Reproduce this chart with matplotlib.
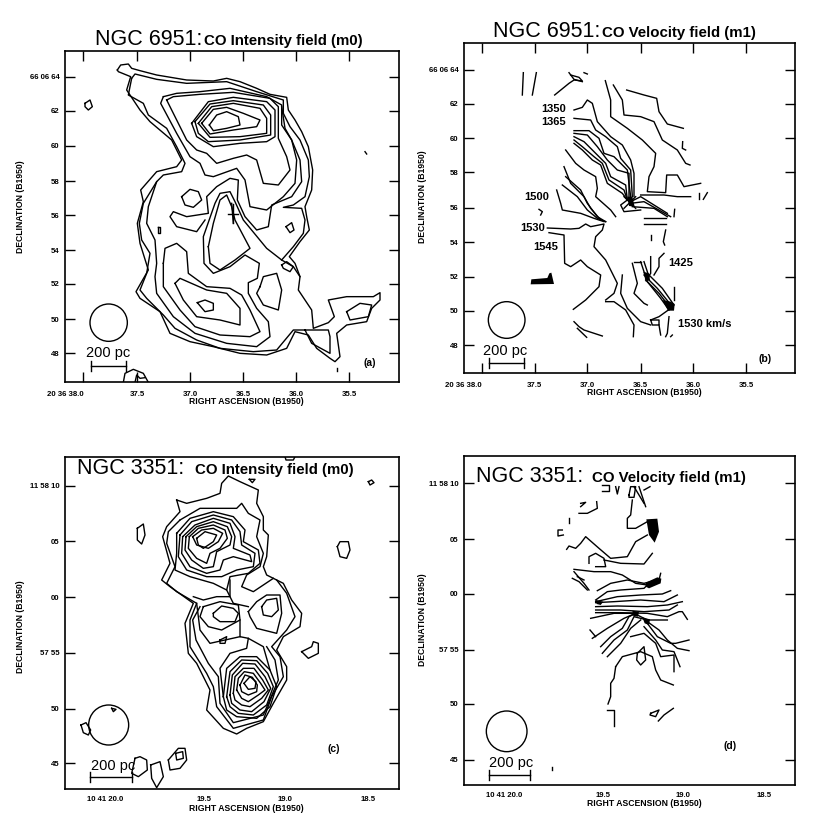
#!/bin/python
import matplotlib
matplotlib.use("Agg")
import matplotlib.pyplot as plt
from matplotlib.patches import Circle

plt.rcParams["font.family"] = ["Liberation Sans", "DejaVu Sans"]

a_contours = [
    [(352,210),(362,195),(385,192),(395,205),(420,212),(470,225),(560,240),(640,243),(680,235),(720,245),(770,265),(810,283),(860,292),(865,330),(885,360),(905,395),(925,440),(938,510),(935,570),(915,620),(920,650),(928,690),(900,725),(868,770),(885,790),(900,830),(895,870),(935,930),(940,985),(985,968),(1003,950),(985,900),(1040,890),(1120,890),(1140,878),(1140,900),(1115,925),(1100,965),(1040,975),(1010,1000),(1020,1070),(1005,1085),(990,1075),(950,1045),(925,1005),(885,995),(860,1045),(800,1065),(720,1060),(640,1040),(570,1025),(510,1000),(480,935),(420,895),(408,875),(425,845),(445,810),(420,730),(412,670),(430,605),(422,570),(470,515),(530,500),(545,480),(515,420),(450,365),(420,330),(380,270),(392,230),(355,215),(352,210)],
    [(395,235),(405,222),(470,238),(560,250),(680,245),(770,275),(850,300),(850,340),(870,380),(900,420),(925,480),(928,530),(915,590),(880,615),(850,622),(905,625),(915,660),(910,700),(880,740),(845,780)],
    [(395,235),(385,285),(430,310),(445,345),(500,385),(530,440),(555,490),(545,515),(490,525),(470,545),(430,610),(418,670),(425,720),(450,760),(440,820),(420,870),(440,895),(490,945),(525,985),(590,1020),(660,1045),(760,1055),(830,1050),(880,990),(915,990),(935,1030),(990,1060),(990,1010),(985,990),(915,990)],
    [(470,545),(445,620),(440,670),(465,720),(470,790),(465,830),(470,880),(520,950),(585,1000),(680,1030),(770,1040),(810,1010),(805,965),(770,925),(745,880),(745,848),(772,835),(778,790),(735,765),(690,800),(640,820),(612,790),(610,710),(645,610),(660,580),(690,575),(705,605),(730,660),(800,745),(845,780),(880,800),(900,830)],
    [(490,290),(530,280),(600,275),(690,265),(800,290),(845,315),(845,375),(875,420),(900,480),(905,545),(875,590),(815,615),(805,680),(770,690),(735,650),(712,600),(715,540),(690,535),(650,560),(620,590),(625,640),(560,650),(520,635),(510,650),(530,680),(590,695),(615,660)],
    [(490,290),(482,310),(530,400),(570,470),(600,490),(615,525),(640,530),(710,505),(735,540),(750,620),(800,630),(850,590),(885,550),(890,480),(875,420),(855,385),(845,320)],
    [(500,300),(520,290),(600,283),(700,277),(810,295),(835,320),(835,415),(860,470),(870,510),(835,555),(790,550),(770,480),(740,465),(700,475),(650,490),(620,460),(590,450),(560,420),(530,360),(500,300)],
    [(575,370),(625,305),(700,292),(800,305),(825,330),(825,410),(800,425),(720,430),(640,440),(590,410),(575,370)],
    [(585,365),(630,312),(700,302),(790,315),(812,345),(812,405),(720,420),(625,425),(595,400),(585,365)],
    [(595,370),(635,320),(700,310),(780,325),(800,355),(800,400),(720,410),(630,412),(595,370)],
    [(605,370),(640,328),(680,322),(730,340),(780,360),(770,380),(700,390),(630,402),(605,370)],
    [(628,375),(650,345),(680,335),(715,350),(720,375),(680,385),(640,392),(628,375)],
    [(625,740),(640,670),(660,600),(680,585),(695,620),(705,660),(750,745),(705,780),(660,810),(630,790),(625,740)],
    [(545,590),(570,568),(595,575),(605,600),(580,622),(555,615),(545,590)],
    [(858,680),(875,668),(882,690),(870,698),(858,680)],
    [(255,310),(270,300),(277,320),(265,330),(255,320),(255,310)],
    [(845,795),(860,785),(880,800),(870,815),(850,805),(845,795)],
    [(592,908),(615,900),(640,910),(640,930),(615,935),(592,908)],
    [(525,850),(540,835),(620,870),(680,880),(720,925),(720,975),(660,960),(590,950),(550,900),(525,850)],
    [(490,790),(490,860),(540,930),(585,980),(660,1005),(750,1010),(780,995),(750,930),(725,885),(690,865),(620,860),(565,820),(560,755),(530,730),(495,745),(490,790)],
    [(780,860),(790,830),(830,820),(845,870),(835,930),(790,915),(770,880),(780,860)],
    [(1040,935),(1080,910),(1115,915),(1105,950),(1050,960),(1040,935)],
    [(473,680),(480,680),(480,700),(473,700),(473,680)],
    [(1095,455),(1100,462)],
    [(1010,1105),(1010,1112)],
    [(370,1147),(375,1120),(400,1108),(430,1120),(445,1147)],
    [(405,1147),(410,1125),(420,1135),(435,1133)],
    [(695,610),(700,670)],
    [(685,642),(715,642)],
]

b_contours = [
    [(328,218),(325,285)],
    [(367,218),(355,285)],
    [(422,285),(465,250),(480,240),(505,243),(495,232),(470,225)],
    [(465,218),(480,238),(505,245)],
    [(510,218),(520,222)],
    [(574,242),(590,300),(590,350),(640,385),(685,420),(725,460),(720,500),(705,530),(700,575),(755,578),(758,525),(790,525),(810,560),(860,550)],
    [(598,255),(625,300),(630,345),(680,350),(720,365),(745,420),(790,450),(815,490),(828,495)],
    [(638,270),(690,285),(728,295),(735,335),(760,372),(808,385)],
    [(806,425),(805,445),(815,450)],
    [(480,330),(505,322),(520,300),(535,310),(550,365),(590,410),(625,435),(650,480),(660,520),(660,590)],
    [(480,355),(530,360),(545,390),(575,410),(610,440),(620,475),(650,510),(655,590)],
    [(480,392),(525,392),(555,415),(570,460),(600,470),(640,510),(650,590)],
    [(480,400),(520,405),(550,440),(580,480),(610,510),(645,520),(645,595)],
    [(480,410),(510,425),(545,460),(575,490),(590,530),(635,555),(640,600)],
    [(480,420),(505,440),(540,470),(565,490),(585,540),(630,570),(640,600)],
    [(480,430),(505,450),(535,480),(560,495),(580,550),(625,580),(640,600)],
    [(455,450),(485,490),(510,510),(545,530),(550,565),(545,590),(590,630),(605,650)],
    [(450,500),(470,550),(510,590),(530,625),(560,660)],
    [(455,530),(500,570),(520,610),(550,650),(575,665)],
    [(445,555),(490,590),(520,630),(550,655),(575,665)],
    [(428,570),(440,610),(445,630),(500,640),(540,655),(570,665)],
    [(650,605),(680,590),(760,640)],
    [(650,610),(690,605),(770,650)],
    [(655,620),(720,625),(760,650)],
    [(680,585),(750,585),(790,590),(830,590)],
    [(640,600),(620,615),(630,635),(680,630)],
    [(630,590),(665,625)],
    [(665,590),(630,625)],
    [(690,654),(755,654)],
    [(690,672),(755,672)],
    [(782,628),(780,650)],
    [(855,580),(855,598)],
    [(868,598),(880,578)],
    [(400,684),(470,687),(495,685),(515,672),(530,680),(570,672),(565,690),(545,710),(540,740),(575,780),(610,850),(600,880),(575,900)],
    [(405,698),(450,705),(452,790),(470,800),(500,780),(520,800),(560,825),(555,860),(515,900),(478,928)],
    [(575,905),(600,905),(635,930),(660,975),(658,1010)],
    [(480,965),(495,980),(510,990),(565,1008)],
    [(490,985),(518,1012)],
    [(712,705),(712,720)],
    [(755,690),(748,725),(752,735)],
    [(625,825),(620,880),(640,925),(680,965),(710,975)],
    [(655,790),(670,850),(660,880),(690,910),(700,915)],
    [(710,770),(710,820),(700,835)],
    [(750,760),(735,775),(735,800),(720,825)],
    [(680,785),(695,830)],
    [(660,785),(680,785)],
    [(690,785),(705,830)],
    [(690,825),(730,865),(775,920)],
    [(695,840),(735,880),(770,925)],
    [(705,825),(745,865),(780,915)],
    [(700,845),(740,895),(765,930)],
    [(780,860),(780,900)],
    [(770,925),(735,950),(710,960)],
    [(710,960),(735,960),(735,975),(715,975),(710,960)],
    [(735,975),(740,1005)],
    [(765,950),(760,1000),(755,1010)],
    [(770,1010),(775,1005)],
    [(375,628),(385,635),(380,645)],
]
b_filled = [
    [(350,853),(352,838),(400,834),(406,820),(412,818),(420,852)],
    [(688,815),(705,820),(708,840),(695,845)],
    [(745,900),(770,905),(782,912),(780,932),(762,932)],
    [(640,590),(655,590),(662,620),(645,618)],
]

c_contours = [
    [(530,240),(560,250),(620,235),(660,220),(665,190),(685,168),(720,185),(775,210),(770,250),(790,290),(790,330),(805,345),(800,410),(790,440),(800,465),(850,490),(875,540),(905,580),(900,620),(850,650),(830,690),(860,740),(860,780),(820,850),(790,905),(740,925),(710,942),(670,925),(620,870),(630,810),(590,730),(565,700),(555,610),(580,550),(510,500),(485,480),(510,430),(488,350),(500,320),(540,275),(530,240)],
    [(540,300),(505,335),(500,370),(525,440),(500,490),(530,515),(590,550),(570,600),(570,680),(620,760),(640,800),(650,860),(700,925),(790,900),(815,830),(850,770),(840,710),(815,680),(860,630),(885,590),(860,520),(830,480)],
    [(540,300),(600,265),(650,265),(710,265),(725,250),(745,280),(780,300),(770,350),(790,400),(780,440),(740,465),(725,500),(760,515),(820,475)],
    [(530,340),(570,295),(640,275),(700,290),(735,330),(730,365),(775,390),(780,430),(745,460),(690,470),(680,510),(640,490),(570,470),(525,450),(530,400),(530,340)],
    [(540,345),(575,305),(640,285),(695,300),(720,335),(725,375),(765,400),(760,440),(710,450),(665,470),(620,470),(560,450),(535,410),(540,345)],
    [(548,350),(585,315),(640,295),(690,310),(705,350),(700,385),(750,405),(755,425),(700,410),(670,420),(660,450),(620,460),(570,440),(545,400),(548,350)],
    [(558,350),(590,320),(640,305),(682,320),(695,350),(690,375),(650,395),(640,440),(610,445),(575,420),(555,390),(558,350)],
    [(568,350),(595,325),(640,315),(675,330),(682,355),(660,385),(630,400),(620,430),(590,415),(565,385),(568,350)],
    [(578,350),(605,330),(640,325),(668,340),(655,365),(625,385),(590,375),(578,350)],
    [(590,355),(615,335),(650,345),(640,365),(610,385),(595,375),(590,355)],
    [(670,830),(680,745),(720,710),(770,710),(810,750),(830,800),(810,860),(770,895),(710,890),(680,870),(670,830)],
    [(680,830),(690,755),(725,720),(770,722),(803,760),(820,800),(800,855),(760,885),(715,880),(690,860),(680,830)],
    [(690,825),(697,765),(728,730),(765,732),(795,770),(812,805),(792,845),(755,875),(720,870),(695,850),(690,825)],
    [(700,820),(705,770),(730,745),(762,745),(788,780),(805,810),(785,835),(750,860),(725,855),(705,840),(700,820)],
    [(710,810),(715,775),(733,755),(760,760),(782,790),(795,810),(775,825),(745,845),(725,835),(710,810)],
    [(720,795),(735,765),(757,772),(772,795),(770,815),(745,825),(725,815),(720,795)],
    [(732,790),(750,770),(768,785),(765,805),(745,808),(732,790)],
    [(640,580),(665,558),(700,565),(715,580),(705,605),(660,605),(640,590),(640,580)],
    [(610,560),(660,545),(715,555),(720,600),(665,630),(625,620),(600,590),(610,560)],
    [(785,560),(800,540),(830,535),(835,570),(815,590),(790,585),(785,560)],
    [(745,575),(770,545),(800,525),(840,525),(845,580),(830,640),(770,625),(750,590),(745,575)],
    [(720,600),(720,650),(745,655),(740,685),(690,700),(660,745),(670,830)],
    [(660,660),(680,650),(675,670),(660,670),(660,660)],
    [(590,550),(600,630),(630,670),(720,650)],
    [(600,560),(578,600),(588,660),(625,730),(655,770),(660,850),(700,908),(790,885),(835,780),(825,720),(800,680)],
    [(580,530),(610,540),(650,530),(690,530),(690,480)],
    [(680,510),(700,550),(745,560)],
    [(745,655),(790,680),(810,750)],
    [(412,325),(430,312),(435,345),(425,372),(412,360),(412,325)],
    [(1012,380),(1020,365),(1045,365),(1050,390),(1040,415),(1020,410),(1012,380)],
    [(905,695),(935,680),(940,665),(955,670),(955,700),(925,715),(905,695)],
    [(1105,185),(1115,180),(1122,188),(1110,195),(1105,185)],
    [(748,178),(765,178),(757,188),(748,178)],
    [(855,110),(858,120),(880,120),(885,110)],
    [(243,915),(258,908),(272,930),(265,945),(250,938),(243,915)],
    [(335,865),(348,868),(340,875),(335,865)],
    [(405,1015),(420,1010),(440,1020),(442,1050),(415,1070),(395,1060),(405,1015)],
    [(452,1035),(480,1025),(490,1070),(470,1103),(455,1075),(452,1035)],
    [(505,1020),(535,985),(555,985),(560,1020),(540,1045),(510,1050),(505,1020)],
    [(527,1000),(548,995),(550,1015),(530,1020),(527,1000)],
]

d_contours = [
    [(565,195),(585,195),(585,212),(565,212)],
    [(605,200),(610,222),(615,200)],
    [(645,225),(650,200),(665,200),(660,232),(645,232),(645,225)],
    [(660,200),(690,250)],
    [(675,200),(695,260)],
    [(690,210),(708,200)],
    [(655,240),(650,285),(640,295),(640,325),(665,325),(700,305)],
    [(700,345),(665,365),(640,410),(590,415),(555,385),(515,350),(500,370),(485,385),(465,378),(458,388)],
    [(500,250),(515,247),(500,260)],
    [(548,245),(550,265),(520,280),(495,280)],
    [(465,295),(465,310)],
    [(445,330),(432,330),(432,348),(448,345)],
    [(525,430),(525,410),(545,400),(570,415),(575,440),(545,440)],
    [(570,420),(620,430),(690,432),(715,400)],
    [(480,448),(540,455),(590,455),(625,465),(665,490),(700,495)],
    [(550,512),(590,490),(640,480),(690,490),(730,480)],
    [(740,460),(735,480)],
    [(480,455),(510,490),(525,510)],
    [(475,475),(495,485),(520,510)],
    [(490,470),(510,480)],
    [(545,540),(580,515),(620,510),(690,505),(700,495)],
    [(545,545),(610,530),(680,525),(745,522),(770,512)],
    [(545,548),(600,545),(680,540),(750,545),(790,525)],
    [(545,560),(610,558),(700,560),(760,555),(805,545)],
    [(545,570),(620,570),(690,575),(765,570),(790,555)],
    [(545,578),(620,578),(700,580),(760,590),(795,575),(805,575),(820,598)],
    [(530,595),(600,580),(660,580),(700,600),(760,600)],
    [(528,630),(545,650)],
    [(535,655),(580,625),(630,595),(665,580)],
    [(560,680),(590,650),(625,625),(645,590),(665,580)],
    [(565,700),(600,660),(640,630),(660,590),(700,600)],
    [(580,710),(620,670),(650,625),(680,600)],
    [(700,605),(735,630),(760,660),(790,685),(825,692)],
    [(700,610),(730,650),(770,670),(785,670),(825,660)],
    [(690,620),(725,660),(745,690),(780,695),(798,740)],
    [(650,650),(690,640),(725,670),(740,710),(780,705),(780,755)],
    [(605,740),(625,710),(680,695),(715,710),(725,750),(740,780),(778,795)],
    [(605,740),(600,775),(590,790),(590,830),(582,852)],
    [(670,700),(690,680),(695,720),(680,735),(668,720),(670,700)],
    [(580,870),(600,870),(600,918)],
    [(710,880),(735,870),(725,890),(708,885),(710,880)],
    [(733,903),(750,885),(778,865)],
    [(413,1042),(413,1050)],
]
d_filled = [
    [(697,298),(730,296),(735,335),(722,368),(705,345)],
    [(695,488),(730,472),(742,476),(740,490),(705,505),(695,500)],
    [(545,540),(568,545),(560,555),(548,552)],
    [(655,572),(675,575),(672,590),(658,588)],
    [(685,592),(708,598),(705,615),(692,610)],
]

a_yticks = [230, 332, 437, 543, 646, 751, 852, 957, 1059]
b_yticks = [209, 311, 415, 516, 623, 726, 830, 932, 1035]
c_yticks = [197, 364, 531, 698, 866, 1030]
d_yticks = [190, 358, 522, 690, 852, 1020]
ab_ylabels = ["66 06 64", "62", "60", "58", "56", "54", "52", "50", "48"]
cd_ylabels = ["11 58 10", "05", "00", "57 55", "50", "45"]

a_xticks = [250, 412, 571, 730, 888, 1047]
b_xticks = [204, 362, 520, 680, 838, 997]
c_xticks = [370, 612, 856, 1105]
d_xticks = [325, 566, 806, 1050]
ab_xlabels = ["20 36 38.0", "37.5", "37.0", "36.5", "36.0", "35.5"]
cd_xlabels = ["10 41 20.0", "19.5", "19.0", "18.5"]

b_velocities = ["1350", "1365", "1500", "1530", "1545", "1425", "1530 km/s"]
b_velocity_x = [420, 420, 367, 355, 395, 800, 873]
b_velocity_y = [327, 367, 590, 684, 740, 790, 973]


def draw_panel(off, box, contours, xticks, xlabels, yticks, ylabels, x_marks=True):
    x0, x1, y0, y1 = box
    fig_w, fig_h = 828.0, 830.0
    left = (off[0] + x0 / 3.0) / fig_w
    bottom = 1 - (off[1] + y1 / 3.0) / fig_h
    ax = fig.add_axes([left, bottom, (x1 - x0) / 3.0 / fig_w, (y1 - y0) / 3.0 / fig_h])
    ax.set_xlim(x0, x1)
    ax.set_ylim(y1, y0)
    for c in contours:
        ax.plot([p[0] for p in c], [p[1] for p in c], color="black", lw=1.0)

    ax.set_xticks(xticks)
    ax.set_xticklabels(xlabels, fontsize=5.6, fontweight="bold")
    ax.set_yticks(yticks)
    ax.set_yticklabels(ylabels, fontsize=5.6, fontweight="bold")
    ax.get_xticklabels()[0].set_ha("right")
    ax.tick_params(axis="x", direction="in", length=7 if x_marks else 0, width=1.0,
                   top=x_marks, bottom=x_marks, pad=6 if x_marks else 5)
    ax.tick_params(axis="y", direction="in", length=7, width=1.0, right=True, pad=4)
    for spine in ax.spines.values():
        spine.set_linewidth(1.2)
    return ax


def decorate(ax, beam, bar, bar_text, letter, xlab, ylab, name, sub, title_y):
    ax.add_patch(Circle((beam[0], beam[1]), beam[2], fill=False, lw=1.0, color="black"))
    ax.plot([bar[0], bar[1]], [bar[2], bar[2]], color="black", lw=1.0)
    for x in bar[:2]:
        ax.plot([x, x], [bar[2] - 15, bar[2] + 15], color="black", lw=1.0)
    ax.text(bar_text[0], bar_text[1], "200 pc", fontsize=10.5, ha="left", va="baseline")
    ax.text(letter[0], letter[1], letter[2], fontsize=7.5, fontweight="bold", ha="center", va="center")
    ax.text(xlab[0], xlab[1], "RIGHT ASCENSION (B1950)", fontsize=6.2, fontweight="bold",
            ha="center", va="center", clip_on=False)
    ax.text(ylab[0], ylab[1], "DECLINATION (B1950)", fontsize=6.2, fontweight="bold",
            ha="center", va="center", rotation=90, clip_on=False)
    ax.text(name[0], title_y, name[1], fontsize=15.5, ha="left", va="baseline", clip_on=False)
    ax.text(sub[0], title_y, sub[1], fontsize=10.8, fontweight="bold", ha="left", va="baseline", clip_on=False)


fig = plt.figure(figsize=(8.28, 8.30), dpi=100)

ax_a = draw_panel((0, 0), (195, 1197, 152, 1147), a_contours, a_xticks, ab_xlabels, a_yticks, ab_ylabels)
ax_a.plot([700, 700], [612, 668], color="black", lw=1.0)
decorate(ax_a, (326, 968, 56), (272, 378, 1097), (258, 1072), (1108, 1088, "(a)"),
         (740, 1203), (62, 620), (285, "NGC 6951:"), (612, "CO Intensity field (m0)"), 135)

ax_b = draw_panel((414, 0), (150, 1143, 130, 1120), b_contours, b_xticks, ab_xlabels, b_yticks, ab_ylabels)
for poly in b_filled:
    ax_b.fill([p[0] for p in poly], [p[1] for p in poly], color="black", lw=0)
for t, x, y in zip(b_velocities, b_velocity_x, b_velocity_y):
    ax_b.text(x, y, t, fontsize=8, fontweight="bold", ha="center", va="center")
decorate(ax_b, (278, 960, 55), (225, 330, 1090), (208, 1065), (1052, 1078, "(b)"),
         (690, 1177), (25, 590), (238, "NGC 6951:"), (563, "CO Velocity field (m1)"), 112)

ax_c = draw_panel((0, 420), (195, 1197, 110, 1108), c_contours, c_xticks, cd_xlabels, c_yticks, cd_ylabels, x_marks=False)
decorate(ax_c, (326, 915, 60), (270, 395, 1072), (272, 1050), (1000, 987, "(c)"),
         (740, 1165), (62, 620), (232, "NGC 3351:"), (585, "CO Intensity field (m0)"), 162)

ax_d = draw_panel((414, 420), (150, 1143, 108, 1096), d_contours, d_xticks, cd_xlabels, d_yticks, cd_ylabels, x_marks=False)
for poly in d_filled:
    ax_d.fill([p[0] for p in poly], [p[1] for p in poly], color="black", lw=0)
decorate(ax_d, (278, 934, 61), (225, 348, 1065), (226, 1042), (947, 977, "(d)"),
         (690, 1152), (25, 600), (185, "NGC 3351:"), (535, "CO Velocity field (m1)"), 185)

plt.savefig("out.png", dpi=100)
